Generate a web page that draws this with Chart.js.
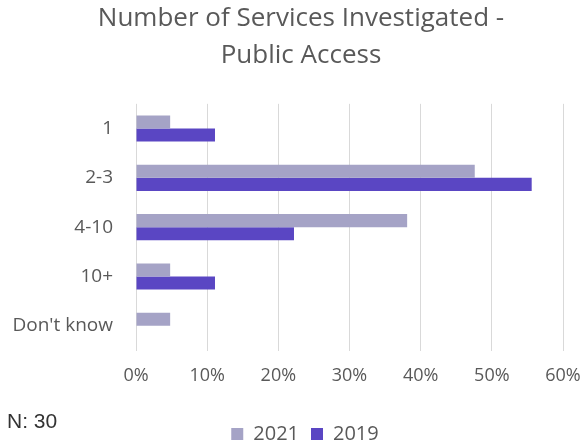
<!DOCTYPE html>
<html>
<head>
<meta charset="utf-8">
<script src="https://cdn.jsdelivr.net/npm/chart.js@4/dist/chart.umd.min.js"></script>
<style>
  html, body { margin: 0; padding: 0; background: #fff; }
  #wrap { position: relative; width: 581px; height: 441px; overflow: hidden; }
  #note {
    position: absolute; left: 7px; top: 410px; line-height: 1;
    font-family: 'Liberation Sans', Arial, sans-serif; font-size: 21px; color: #333;
  }
</style>
</head>
<body>
<div id="wrap">
  <canvas id="chart" width="581" height="441"></canvas>
  <div id="note">N: 30</div>
</div>
<script>
/* ─── DATA ─────────────────────────────────────────── */
const categories = ['1', '2-3', '4-10', '10+', "Don't know"];
const values2021 = [4.8, 47.6, 38.1, 4.8, 4.8];
const values2019 = [11.1, 55.6, 22.2, 11.1, 0];
const xTicks     = [0, 10, 20, 30, 40, 50, 60];

const textGrey = '#595959';
const baseFont = "'Open Sans', 'DejaVu Sans', sans-serif";

// title + legend sit centred a bit right of the canvas middle
const shiftHeader = {
  id: 'shiftHeader',
  afterLayout(chart) {
    if (chart.titleBlock) chart.titleBlock.left += 39;
    if (chart.legend) chart.legend.left += 47;
  }
};

/* ─── CHART ────────────────────────────────────────── */
new Chart(document.getElementById('chart'), {
  type: 'bar',
  data: {
    labels: categories,
    datasets: [
      { label: '2021', data: values2021, backgroundColor: '#A5A3C6' },
      { label: '2019', data: values2019, backgroundColor: '#5A46C3' }
    ]
  },
  plugins: [shiftHeader],
  options: {
    indexAxis: 'y',
    responsive: false,
    animation: false,
    categoryPercentage: 0.53,
    barPercentage: 1,
    layout: { padding: { left: 0, right: 18, top: 0, bottom: -13 } },
    scales: {
      x: {
        min: 0, max: 60,
        afterBuildTicks: s => { s.ticks = xTicks.map(v => ({ value: v })); },
        afterFit: s => { s.height = 61.5; s.paddingRight = 15; },
        grid: { color: '#D9D9D9', drawTicks: false },
        border: { display: false },
        ticks: {
          padding: 15,
          color: textGrey,
          font: { family: baseFont, size: 18 },
          callback: v => v + '%'
        }
      },
      y: {
        afterFit: s => { s.width = 136; },
        grid: { display: false },
        border: { display: false },
        ticks: {
          padding: 15,
          color: textGrey,
          font: { family: baseFont, size: 19 }
        }
      }
    },
    plugins: {
      title: {
        display: true,
        text: ['Number of Services Investigated -', 'Public Access'],
        color: textGrey,
        font: { family: baseFont, size: 26, weight: 'normal', lineHeight: 1.42 },
        padding: { top: 0, bottom: 30 }
      },
      legend: {
        position: 'bottom',
        labels: {
          boxWidth: 12, boxHeight: 12,
          padding: 12,
          color: textGrey,
          font: { family: baseFont, size: 20 }
        }
      },
      tooltip: { enabled: false }
    }
  }
});
</script>
</body>
</html>
